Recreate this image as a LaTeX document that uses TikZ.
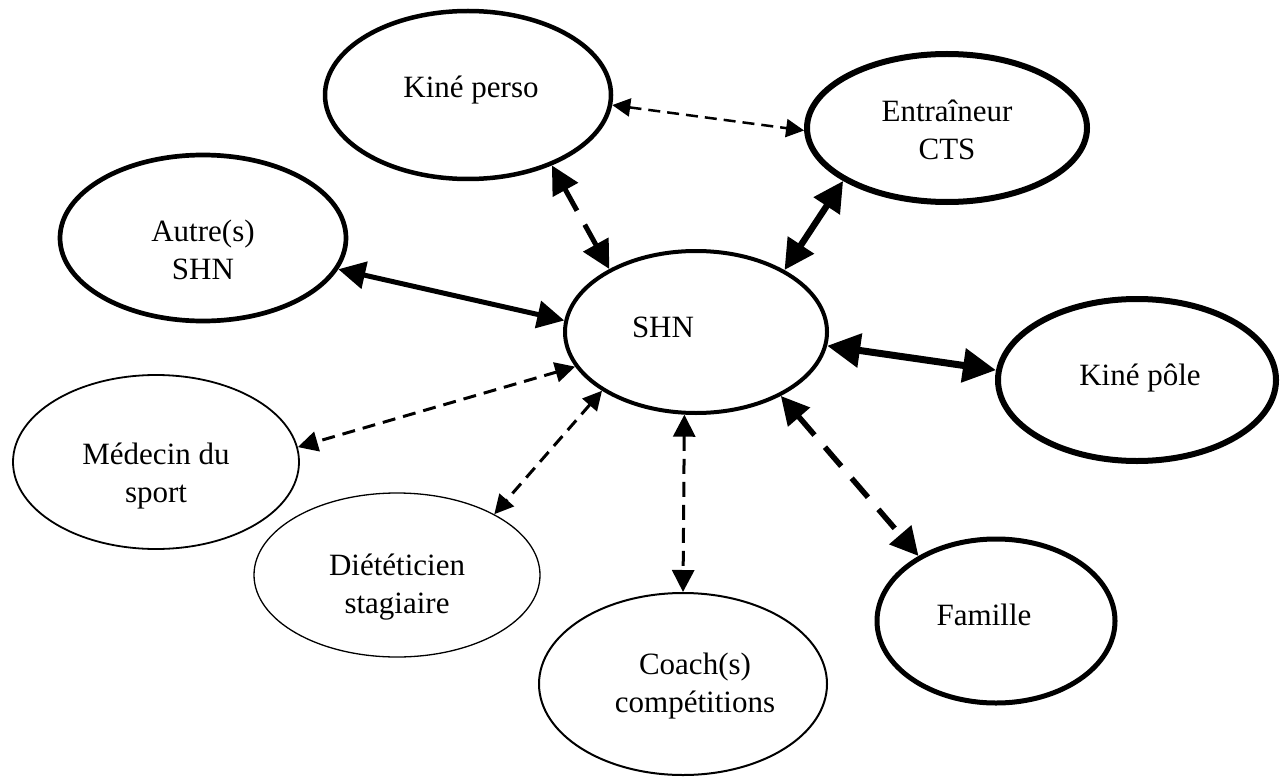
\documentclass[tikz,border=0pt]{standalone}
\usepackage{fontspec}
\setmainfont{Liberation Serif}
\usetikzlibrary{shapes.geometric,arrows.meta}
\begin{document}
\begin{tikzpicture}[x=1pt,y=-1pt,
  ell/.style={draw,ellipse,inner sep=0pt},
  lbl/.style={font=\fontsize{31}{38}\selectfont,align=center,inner sep=0pt},
  dbl/.style={arrows={Triangle[length=#1,width=#1]-Triangle[length=#1,width=#1]}},
  thindash/.style={line width=3pt,dash pattern=on 13pt off 8pt},
  thickdash/.style={line width=5.5pt,dash pattern=on 25pt off 16pt},
]
\useasboundingbox (0,0) rectangle (1284,778);

% ellipses
\node[ell,line width=4.5pt,minimum width=286pt,minimum height=168pt] (kp) at (468,95) {};
\node[ell,line width=6pt,minimum width=280pt,minimum height=148pt] (ent) at (947,128) {};
\node[ell,line width=4.7pt,minimum width=286pt,minimum height=166pt] (aut) at (203,238) {};
\node[ell,line width=4pt,minimum width=262pt,minimum height=162pt] (shn) at (696,332) {};
\node[ell,line width=6pt,minimum width=278pt,minimum height=162pt] (kpo) at (1137,380) {};
\node[ell,line width=5pt,minimum width=238pt,minimum height=164pt] (fam) at (996,621) {};
\node[ell,line width=2pt,minimum width=288pt,minimum height=182pt] (coa) at (683,684) {};
\node[ell,line width=1.3pt,minimum width=286pt,minimum height=164pt] (die) at (397,575) {};
\node[ell,line width=1.8pt,minimum width=286pt,minimum height=174pt] (med) at (156,462) {};

% labels
\node[lbl] (kpt) at (471,90) {Kiné perso};
\node[lbl] (entt) at (947,130) {Entraîneur\\CTS};
\node[lbl] (autt) at (203,250) {Autre(s)\\SHN};
\node[lbl] (shnt) at (663,327) {SHN};
\node[lbl] (kpot) at (1140,378) {Kiné pôle};
\node[lbl] (famt) at (984,615) {Famille};
\node[lbl] (coat) at (695,686) {Coach(s)\\compétitions};
\node[lbl] (diet) at (397,587) {Diététicien\\stagiaire};
\node[lbl] (medt) at (156,476) {Médecin du\\sport};

% connectors
\draw[thindash,line width=2.5pt,dash pattern=on 12pt off 7pt,dbl=18pt] (kp.-4.3) -- (ent.181);
\draw[thickdash,line width=5pt,dbl=28pt] (kp.-40.5) -- (shn.144.2);
\draw[line width=6.5pt,dbl=30pt] (ent.207.7) -- (shn.35.8);
\draw[line width=5pt,dbl=27pt] (aut.-13.6) -- (shn.175.7);
\draw[line width=7pt,dbl=33pt] (shn.-6.5) -- (kpo.176);
\draw[thickdash,dbl=28pt] (shn.-37.2) -- (fam.140.5);
\draw[thindash,dash pattern=on 15pt off 8pt,dbl=22pt] (shn.-98.6) -- (coa.90);
\draw[thindash,dbl=20pt] (shn.-164) -- (med.6);
\draw[thindash,dbl=19pt] (shn.-148.9) -- (die.32.2);
\end{tikzpicture}
\end{document}
